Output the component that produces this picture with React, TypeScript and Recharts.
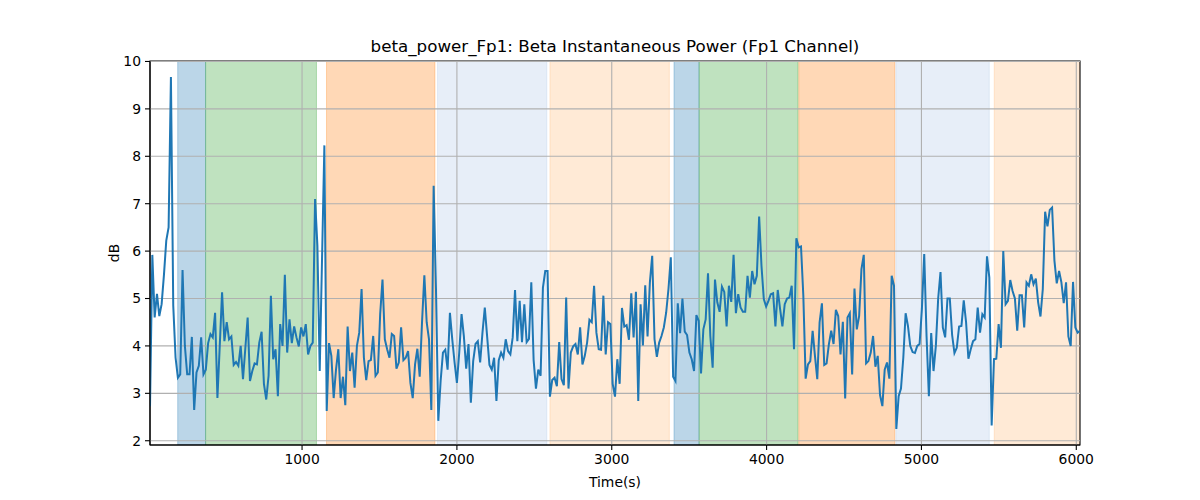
import React from 'react';
import { ComposedChart, Line, XAxis, YAxis, ReferenceArea, ReferenceLine, Label } from 'recharts';

// sampling of the beta power trace (seconds)
const START_TIME = 18;
const SAMPLE_STEP = 15.015;

// beta power (dB), read left to right
const seg1 = [
  2.73, 5.92, 4.6, 5.1, 4.63, 4.88, 5.5, 6.22, 6.5, 9.67,
  4.85, 3.75, 3.33, 3.4, 5.6, 4.0, 3.4, 3.4, 4.19, 2.65,
  3.44, 3.58, 4.18, 3.4, 3.5, 4.06, 4.25, 4.18, 4.7, 2.9,
  4.0, 5.13, 4.1, 4.5, 4.14, 4.2, 3.6, 3.66, 3.58, 4.0,
  3.3, 3.95, 4.6, 3.26, 3.47, 3.63, 3.61, 4.07, 4.3, 3.2,
  2.87, 3.37, 5.06, 3.72, 3.93, 2.94, 4.46, 4.0, 5.5, 3.86,
  4.56, 4.06, 4.41, 4.18, 3.99, 4.39,
];
const seg2 = [
  4.2, 4.46, 3.82, 4.0, 4.07, 7.1, 6.11, 3.47, 5.85, 8.23,
  2.63, 4.06, 3.79, 2.9, 3.5, 3.93, 2.9, 3.35, 2.75, 4.41,
  3.47, 3.86, 3.12, 4.0, 4.28, 5.2, 3.75, 3.28, 3.68, 3.7,
  4.21, 3.37, 3.44, 4.67, 5.4, 4.14, 3.93, 3.75, 4.25, 4.21,
  3.52, 3.65, 4.39, 3.7, 3.75, 3.89, 3.22, 2.9, 3.61, 3.94,
  3.35, 4.5, 5.49, 4.5, 4.14, 2.65, 7.38, 5.2, 2.42, 3.26,
  3.86, 3.92, 3.5, 4.7, 4.14, 3.65, 3.22,
];
const seg3 = [
  3.86, 4.67, 4.2, 3.52, 4.04, 2.8, 3.68, 4.04, 4.1, 3.65,
  4.28, 4.81, 4.2, 3.6, 3.5, 3.75, 2.84, 3.7, 3.86, 3.75,
  4.14, 3.89, 3.82, 4.18, 5.18, 4.1, 4.95, 4.08, 4.88, 4.08,
  4.15, 5.34, 3.7, 3.1, 3.5, 3.37, 5.23, 5.58, 5.58, 2.93,
  3.28, 3.33, 3.15, 4.08, 3.3, 3.17, 5.02, 3.1, 3.86, 3.99,
  4.04, 3.82, 4.39, 3.61, 3.79, 4.07, 4.55, 4.5, 5.27, 4.28,
  3.93, 3.92, 5.06, 3.82, 4.5, 4.46, 3.2,
];
const seg4 = [
  2.93, 3.72, 3.2, 4.8, 4.41, 4.44, 4.13, 5.11, 4.18, 5.14,
  2.84, 4.88, 4.01, 5.28, 4.2, 5.34, 5.9, 4.14, 3.77, 4.07,
  4.21, 4.39, 4.7, 5.2, 5.87, 3.35, 3.26, 4.9, 4.27, 5.0,
  4.3, 4.23, 3.86, 3.72, 3.47, 4.65, 4.53, 3.42, 4.35, 4.56,
  5.53, 4.21, 3.54, 5.4, 4.92, 4.72, 5.25, 5.14, 4.41, 5.27,
  4.93, 5.92, 4.69, 5.09, 4.81, 4.72, 4.72, 5.48, 5.02, 5.58,
  5.3, 5.48, 6.73, 5.69, 4.99, 4.83, 4.95,
];
const seg5 = [
  5.09, 5.11, 4.41, 5.18, 4.78, 4.41, 4.88, 5.0, 5.02, 5.27,
  3.93, 6.27, 6.08, 6.1, 5.06, 3.31, 3.61, 3.68, 4.32, 3.79,
  3.3, 4.5, 4.9, 3.6, 3.63, 4.04, 4.32, 4.04, 4.76, 4.63,
  3.82, 4.51, 2.89, 4.6, 4.69, 3.4, 5.21, 4.35, 4.63, 5.62,
  5.92, 3.63, 3.68, 3.86, 4.21, 3.56, 3.79, 2.96, 2.73, 3.5,
  3.65, 3.31, 5.48, 5.27, 2.25, 2.94, 3.1, 3.75, 4.69, 4.42,
  4.0, 3.87, 3.85, 4.0, 4.04, 4.78, 5.94,
];
const seg6 = [
  4.21, 2.94, 4.27, 3.47, 4.0, 5.0, 5.56, 4.39, 4.18, 5.0,
  5.0, 4.23, 3.85, 3.96, 4.41, 4.42, 4.96, 4.5, 3.73, 3.93,
  4.1, 4.14, 4.81, 4.28, 4.67, 4.6, 5.89, 5.44, 2.32, 3.72,
  3.73, 4.46, 3.96, 6.0, 4.88, 4.95, 5.39, 5.16, 5.0, 4.32,
  5.07, 5.07, 4.39, 5.34, 5.27, 5.51, 5.3, 5.42, 4.92, 4.62,
  5.2, 6.83, 6.52, 6.87, 6.92, 5.8, 5.32, 5.58, 5.34, 4.9,
  5.34, 4.2, 4.0, 5.35, 4.39, 4.28, 4.32,
];

// shaded stage intervals (seconds)
const bandStarts = [197, 377, 1158, 1875, 2601, 3402, 3564, 4208, 4835, 5470];
const bandEnds = [377, 1093, 1858, 2581, 3372, 3564, 4203, 4828, 5438, 6024];
const bandKinds = ['A', 'B', 'C', 'D', 'E', 'A', 'B', 'C', 'D', 'E'];

const xTicks = [1000, 2000, 3000, 4000, 5000, 6000];
const yTicks = [2, 3, 4, 5, 6, 7, 8, 9, 10];

const X_DOMAIN: [number, number] = [18, 6024];
const Y_DOMAIN: [number, number] = [1.91, 10.01];

const kindColor: Record<string, string> = {
  A: '#1f77b4',
  B: '#2ca02c',
  C: '#ff7f0e',
  D: '#aec7e8',
  E: '#ffbb78',
};

const betaPower = [...seg1, ...seg2, ...seg3, ...seg4, ...seg5, ...seg6];
const data = betaPower.map((power, i) => ({ time: START_TIME + i * SAMPLE_STEP, power }));

const FONT = '"DejaVu Sans", sans-serif';
const tickStyle = { fill: '#000', fontSize: 13.9, fontFamily: FONT };

export default function App() {
  return (
    <div style={{ position: 'absolute', left: 0, top: 0, width: 1200, height: 500, background: '#fff' }}>
      <svg width={1200} height={60} style={{ position: 'absolute', left: 0, top: 0 }}>
        <text x={615} y={52} textAnchor="middle" fontFamily={FONT} fontSize={16.7} fill="#000">
          beta_power_Fp1: Beta Instantaneous Power (Fp1 Channel)
        </text>
      </svg>
      <ComposedChart
        width={1200}
        height={500}
        data={data}
        margin={{ top: 61, right: 120, bottom: 0, left: 0 }}
      >
        <XAxis
          dataKey="time"
          type="number"
          domain={X_DOMAIN}
          allowDataOverflow
          ticks={xTicks}
          height={55}
          tick={tickStyle}
          tickSize={5}
          tickMargin={4}
          tickLine={{ stroke: '#000', strokeWidth: 1.1 }}
          axisLine={{ stroke: '#000', strokeWidth: 1.1 }}
        >
          <Label value="Time(s)" position="insideBottom" offset={13} style={tickStyle} />
        </XAxis>
        <YAxis
          type="number"
          domain={Y_DOMAIN}
          allowDataOverflow
          ticks={yTicks}
          width={150}
          tick={tickStyle}
          tickSize={5}
          tickMargin={4}
          tickLine={{ stroke: '#000', strokeWidth: 1.1 }}
          axisLine={{ stroke: '#000', strokeWidth: 1.1 }}
        >
          <Label
            content={() => (
              <text x={114} y={253} transform="rotate(-90 114 253)" textAnchor="middle" dominantBaseline="central" style={tickStyle}>
                dB
              </text>
            )}
          />
        </YAxis>
        {bandStarts.map((start, i) => (
          <ReferenceArea
            key={`band-${i}`}
            x1={start}
            x2={bandEnds[i]}
            y1={Y_DOMAIN[0]}
            y2={Y_DOMAIN[1]}
            fill={kindColor[bandKinds[i]]}
            fillOpacity={0.3}
            stroke={kindColor[bandKinds[i]]}
            strokeOpacity={0.3}
            ifOverflow="hidden"
          />
        ))}
        {xTicks.map((t) => (
          <ReferenceLine key={`gx-${t}`} x={t} stroke="#b0b0b0" strokeWidth={1.1} />
        ))}
        {yTicks.map((t) => (
          <ReferenceLine key={`gy-${t}`} y={t} stroke="#b0b0b0" strokeWidth={1.1} />
        ))}
        <Line
          type="linear"
          dataKey="power"
          stroke="#1f77b4"
          strokeWidth={2}
          dot={false}
          activeDot={false}
          isAnimationActive={false}
        />
        <ReferenceArea
          x1={X_DOMAIN[0]}
          x2={X_DOMAIN[1]}
          y1={Y_DOMAIN[0]}
          y2={Y_DOMAIN[1]}
          fill="none"
          stroke="#000"
          strokeWidth={1.1}
        />
      </ComposedChart>
    </div>
  );
}
